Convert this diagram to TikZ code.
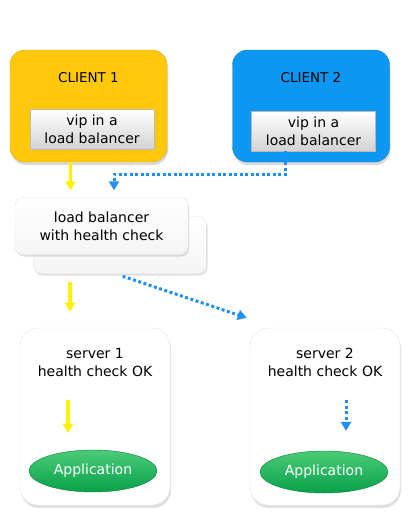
\documentclass[tikz,border=0pt]{standalone}
\usepackage{fontspec}
\setmainfont{DejaVu Sans}
\usepackage{tikz}
\usetikzlibrary{shapes.geometric,arrows.meta,shadows,positioning}
\definecolor{clientgold}{HTML}{FFC80A}
\definecolor{clientblue}{HTML}{0C98F2}
\definecolor{arrowblue}{HTML}{1E8FF5}
\definecolor{appgreen}{HTML}{08A04A}
\definecolor{applight}{HTML}{4CCB78}

\begin{document}
\begin{tikzpicture}[x=1pt,y=-1pt,>={Triangle[width=10pt,length=9pt]},
                    font=\fontsize{14}{18}\selectfont,
                    clientt/.style={rectangle, rounded corners=15pt, minimum width=157pt, minimum height=112pt, draw=#1!85!black, fill=#1, drop shadow={opacity=0.3, shadow xshift=1pt, shadow yshift=-3pt}},
                    vipp/.style={rectangle, minimum width=124pt, minimum height=40pt, inner sep=1pt, align=center, draw=gray!55, top color=white, bottom color=gray!35},
                    balancerr/.style={rectangle, rounded corners=8pt, minimum width=173pt, minimum height=57pt, align=center, draw=gray!20, top color=white, bottom color=gray!8, drop shadow={opacity=0.25, shadow xshift=1pt, shadow yshift=-2pt}},
                    serverr/.style={rectangle, rounded corners=18pt, minimum width=150pt, minimum height=177pt, draw=gray!20, fill=white, drop shadow={opacity=0.25, shadow xshift=1pt, shadow yshift=-3pt}},
                    appp/.style={ellipse, minimum width=128pt, minimum height=42pt, inner sep=1pt, draw=appgreen!80!black, top color=applight, bottom color=appgreen, text=white},
                    yelloww/.style={->, draw=yellow, line width=3.5pt},
                    bluee/.style={->, draw=arrowblue, line width=3pt, dash pattern=on 3pt off 2.5pt}]
  \useasboundingbox (0,0) rectangle (409,520);

  % clients
  \node (Client1) [clientt=clientgold, label={[name=Client1Label, anchor=north, yshift=-19pt, font=\fontsize{13.5}{18}\selectfont]north:CLIENT 1}] at (88.5,106) {};
  \node (Client2) [clientt=clientblue, label={[name=Client2Label, anchor=north, yshift=-19pt, font=\fontsize{13.5}{18}\selectfont]north:CLIENT 2}] at (311,106) {};
  \node (Vip1) [vipp] at (92,129.5) {vip in a\\load balancer};
  \node (Vip2) [vipp] at (313.5,131) {vip in a\\load balancer};

  % load balancer
  \node (LbBack) [balancerr] at (120,245) {};
  \node (Lb) [balancerr] at (101.5,226) {load balancer\\with health check};

  % servers
  \node (Server1) [serverr, label={[name=Server1Label, anchor=north, align=center, yshift=-17pt]north:server 1\\health check OK}] at (95,416.5) {};
  \node (Server2) [serverr, label={[name=Server2Label, anchor=north, align=center, yshift=-17pt]north:server 2\\health check OK}] at (325,416.5) {};
  \node (App1) [appp] at (93,471) {Application};
  \node (App2) [appp] at (324,472) {Application};

  % flows
  \draw[yelloww, shorten >=7pt] ([xshift=-18pt]Client1.south) -- ([xshift=-31pt]Lb.north);
  \draw[bluee, shorten >=7pt] ([xshift=-28pt]Vip2.south) |- ([xshift=12.5pt,yshift=23pt]Lb.north) -- ([xshift=12.5pt]Lb.north);
  \draw[yelloww, shorten <=8pt, shorten >=16pt] ([xshift=-50pt]LbBack.south) -- ([xshift=-25pt]Server1.north);
  \draw[bluee, shorten <=8pt] ([xshift=-5pt]LbBack.south) -- ([xshift=-3pt,yshift=10pt]Server2.north west);
  \draw[yelloww, shorten >=17pt] ([xshift=-27pt,yshift=16.5pt]Server1.center) -- ([xshift=-25pt]App1.north);
  \draw[bluee, shorten >=20pt] ([xshift=21pt,yshift=16.5pt]Server2.center) -- ([xshift=22pt]App2.north);
\end{tikzpicture}
\end{document}
